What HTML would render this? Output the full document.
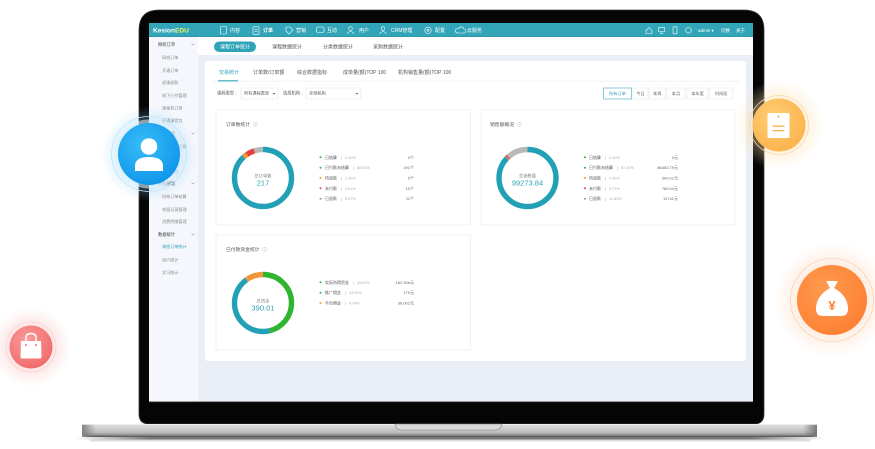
<!DOCTYPE html>
<html><head><meta charset="utf-8">
<style>
html,body{margin:0;padding:0;background:#fff;width:875px;height:449px;overflow:hidden}
svg{display:block}
text{font-family:"Liberation Sans","Noto Sans CJK SC",sans-serif}
</style></head>
<body>
<svg width="875" height="449" viewBox="0 0 875 449" xmlns="http://www.w3.org/2000/svg">
<defs>
  <linearGradient id="base" x1="0" y1="0" x2="0" y2="1">
    <stop offset="0" stop-color="#e4e4e4"/>
    <stop offset="0.35" stop-color="#cdcdcd"/>
    <stop offset="0.65" stop-color="#bcbcbc"/>
    <stop offset="0.85" stop-color="#8e8e8e"/>
    <stop offset="1" stop-color="#4e4e4e"/>
  </linearGradient>
  <linearGradient id="baseL" x1="0" y1="0" x2="1" y2="0">
    <stop offset="0" stop-color="#7a7a7a" stop-opacity="0.9"/>
    <stop offset="1" stop-color="#7a7a7a" stop-opacity="0"/>
  </linearGradient>
  <linearGradient id="baseR" x1="1" y1="0" x2="0" y2="0">
    <stop offset="0" stop-color="#6e6e6e" stop-opacity="0.9"/>
    <stop offset="1" stop-color="#6e6e6e" stop-opacity="0"/>
  </linearGradient>
  <linearGradient id="shadow" x1="0" y1="0" x2="1" y2="0">
    <stop offset="0" stop-color="#555" stop-opacity="0"/>
    <stop offset="0.1" stop-color="#555" stop-opacity="0.8"/>
    <stop offset="0.9" stop-color="#555" stop-opacity="0.8"/>
    <stop offset="1" stop-color="#555" stop-opacity="0"/>
  </linearGradient>
  <radialGradient id="gBlue" cx="0.4" cy="0.35" r="0.7">
    <stop offset="0" stop-color="#37bdf8"/>
    <stop offset="1" stop-color="#0f95ea"/>
  </radialGradient>
  <radialGradient id="gRed" cx="0.4" cy="0.35" r="0.7">
    <stop offset="0" stop-color="#fb9c9c"/>
    <stop offset="1" stop-color="#f06868"/>
  </radialGradient>
  <radialGradient id="gYel" cx="0.4" cy="0.35" r="0.7">
    <stop offset="0" stop-color="#ffcd73"/>
    <stop offset="1" stop-color="#fbb24c"/>
  </radialGradient>
  <radialGradient id="gOra" cx="0.4" cy="0.35" r="0.7">
    <stop offset="0" stop-color="#ff9a4e"/>
    <stop offset="1" stop-color="#fd8033"/>
  </radialGradient>
  <radialGradient id="glowB"><stop offset="0.5" stop-color="#8fd3fa" stop-opacity="0.45"/><stop offset="1" stop-color="#8fd3fa" stop-opacity="0"/></radialGradient>
  <radialGradient id="glowR"><stop offset="0.4" stop-color="#fbb4b4" stop-opacity="0.45"/><stop offset="1" stop-color="#fbb4b4" stop-opacity="0"/></radialGradient>
  <radialGradient id="glowY"><stop offset="0.5" stop-color="#fde1b0" stop-opacity="0.5"/><stop offset="1" stop-color="#fde1b0" stop-opacity="0"/></radialGradient>
  <radialGradient id="glowO"><stop offset="0.5" stop-color="#fdd0b0" stop-opacity="0.45"/><stop offset="1" stop-color="#fdd0b0" stop-opacity="0"/></radialGradient>
</defs>

<!-- laptop lid / bezel -->
<path d="M159,10 H744 Q764,10 764,30 V414 Q764,424 754,424 H149 Q139,424 139,414 V30 Q139,10 159,10 Z" fill="#050505" stroke="#3c3c3c" stroke-width="0.8"/>

<!-- screen -->
<rect x="149" y="23" width="604" height="379" fill="#eaeef6"/>
<rect x="149" y="37" width="49" height="365" fill="#f5f7fc"/>
<rect x="149" y="401.3" width="604" height="0.8" fill="#777"/>

<!-- header -->
<rect x="149" y="23" width="604" height="14" fill="#33a5b8"/>
<rect x="149" y="36.3" width="604" height="0.7" fill="#2b8fa1"/>
<text x="153" y="32.6" font-size="6.6" fill="#fff" font-weight="bold">Kesion<tspan fill="#e9f06e">EDU</tspan></text>

<g fill="none" stroke="#fff" stroke-width="0.6">
  <rect x="220.5" y="26.5" width="6" height="7.5" rx="0.8"/>
  <rect x="253" y="26.8" width="6" height="7.5" rx="0.8"/><line x1="254.5" y1="29.5" x2="257.5" y2="29.5"/><line x1="254.5" y1="31.5" x2="257.5" y2="31.5"/>
  <path d="M286,27 h4 l3,3 l-4,4 l-3,-3 z"/>
  <rect x="316.5" y="27" width="7.5" height="5.5" rx="1.5"/>
  <circle cx="350.5" cy="28.5" r="1.8"/><path d="M347,34 q3.5,-5 7,0"/>
  <circle cx="383" cy="28.5" r="1.8"/><path d="M379.5,34 q3.5,-5 7,0"/>
  <circle cx="428" cy="30.3" r="3.2"/><circle cx="428" cy="30.3" r="1"/>
  <path d="M457,33 h7 a2,2 0 0 0 0,-4 a3,3 0 0 0 -5.5,-0.5 a2.2,2.2 0 0 0 -1.5,4.5 z"/>
  <path d="M646,30.5 l3,-3 l3,3 v3 h-6 z"/>
  <rect x="658.5" y="27.3" width="6" height="4.5" rx="0.6"/><line x1="660" y1="33.5" x2="663" y2="33.5"/>
  <rect x="673" y="26.8" width="4" height="7" rx="0.8"/>
  <circle cx="688.5" cy="30.3" r="2.8"/>
</g>
<g font-size="5" fill="#fff">
  <text x="230" y="32.2">内容</text>
  <text x="263" y="32.2" font-weight="bold">订单</text>
  <text x="296" y="32.2">营销</text>
  <text x="327" y="32.2">互动</text>
  <text x="359" y="32.2">用户</text>
  <text x="391" y="32.2">CRM管理</text>
  <text x="435" y="32.2">配置</text>
  <text x="467" y="32.2">云服务</text>
  <text x="698" y="32" font-size="4.5">admin ▾</text>
  <text x="721" y="32" font-size="4.5">切换</text>
  <text x="736" y="32" font-size="4.5">关于</text>
</g>

<!-- top tabs bar -->
<rect x="198" y="37" width="555" height="18" fill="#fff"/>
<rect x="214" y="41.5" width="42" height="10.5" rx="5.25" fill="#2fa3b8"/>
<text x="235" y="48.6" font-size="5" fill="#fff" text-anchor="middle">课程订单统计</text>
<g font-size="5" fill="#555" text-anchor="middle">
  <text x="287" y="48.6">课程数据统计</text>
  <text x="338" y="48.6">分类数据统计</text>
  <text x="388" y="48.6">采购数据统计</text>
</g>

<!-- sidebar -->
<g font-size="4.3" fill="#444">
  <text x="158" y="45.8">网校订单</text>
  <text x="158" y="134.8">用户管理</text>
  <text x="158" y="184.8">财务管理</text>
  <text x="158" y="235.8">数据统计</text>
</g>
<g fill="none" stroke="#777" stroke-width="0.5">
  <path d="M191.5,43.5 l1.5,1.5 l1.5,-1.5"/>
  <path d="M191.5,132.5 l1.5,1.5 l1.5,-1.5"/>
  <path d="M191.5,182.5 l1.5,1.5 l1.5,-1.5"/>
  <path d="M191.5,233.5 l1.5,1.5 l1.5,-1.5"/>
</g>
<g font-size="4.1" fill="#888">
  <text x="162" y="58.8">网校订单</text>
  <text x="162" y="72.2">开通订单</text>
  <text x="162" y="84.2">退课退款</text>
  <text x="162" y="97.2">线下已付管理</text>
  <text x="162" y="109.5">课程包订单</text>
  <text x="162" y="122.2">开通课程包</text>
  <text x="162" y="147.8">用户列表管理</text>
  <text x="162" y="160.3">会员管理</text>
  <text x="162" y="172.8">卡券管理</text>
  <text x="162" y="198.2">机构订单结算</text>
  <text x="162" y="210.8">充值记录管理</text>
  <text x="162" y="223.2">消费明细管理</text>
  <text x="162" y="248.2" fill="#2fa3b8">课程订单统计</text>
  <text x="162" y="261.5">用户统计</text>
  <text x="162" y="273.8">学习统计</text>
</g>

<!-- main card -->
<rect x="205" y="61" width="541" height="300" rx="3" fill="#fff"/>
<g font-size="5" fill="#555">
  <text x="219" y="74" fill="#2fa3b8">交易统计</text>
  <text x="253" y="74">订单数/订单额</text>
  <text x="297" y="74">综合数据指标</text>
  <text x="343" y="74">成单量(额)TOP 100</text>
  <text x="398" y="74">机构销售量(额)TOP 100</text>
</g>
<rect x="213" y="80.8" width="527" height="0.6" fill="#e8ecf2"/>
<rect x="218" y="80.3" width="20" height="1.1" fill="#2fa3b8"/>

<!-- filters -->
<g font-size="4.3" fill="#555">
  <text x="217" y="94.7">课程类型 :</text>
  <text x="283" y="94.7">选择机构 :</text>
</g>
<rect x="241" y="88" width="37" height="11" rx="1" fill="#fff" stroke="#dfe3ea" stroke-width="0.6"/>
<text x="244" y="94.7" font-size="4.2" fill="#555">所有课程类型</text>
<path d="M272.5,93 l1.5,1.6 l1.5,-1.6 z" fill="#666"/>
<rect x="306" y="88" width="55" height="11" rx="1" fill="#fff" stroke="#dfe3ea" stroke-width="0.6"/>
<text x="309" y="94.7" font-size="4.2" fill="#555">全部机构</text>
<path d="M355.5,93 l1.5,1.6 l1.5,-1.6 z" fill="#666"/>

<!-- period buttons -->
<g fill="#fff" stroke="#e3e7ee" stroke-width="0.6">
  <rect x="633" y="88" width="15" height="11"/>
  <rect x="649" y="88" width="16.5" height="11"/>
  <rect x="667" y="88" width="18" height="11"/>
  <rect x="687" y="88" width="21" height="11"/>
  <rect x="709.5" y="88" width="23.5" height="11"/>
</g>
<rect x="603.5" y="88" width="28" height="11" fill="#fff" stroke="#6cc1cf" stroke-width="0.8"/>
<g font-size="4.2" fill="#666" text-anchor="middle">
  <text x="617.5" y="95" fill="#2fa3b8">所有订单</text>
  <text x="640.5" y="95">今日</text>
  <text x="657.2" y="95">本周</text>
  <text x="676" y="95">本月</text>
  <text x="697.5" y="95">本年度</text>
  <text x="721.2" y="95">时间段</text>
</g>

<!-- panels -->
<g fill="#fff" stroke="#e9edf2" stroke-width="0.7">
  <rect x="216" y="110" width="254.5" height="115" rx="1"/>
  <rect x="481" y="110" width="254" height="115" rx="1"/>
  <rect x="216" y="235" width="254.5" height="115" rx="1"/>
</g>
<g font-size="4.8" fill="#555">
  <text x="226" y="126">订单数统计</text>
  <text x="490" y="126">销售额概况</text>
  <text x="226" y="251">已付款资金统计</text>
</g>
<g fill="none" stroke="#bbb" stroke-width="0.45">
  <circle cx="255.5" cy="124.3" r="2"/>
  <circle cx="519.5" cy="124.3" r="2"/>
  <circle cx="264.5" cy="249.3" r="2"/>
</g>
<g fill="#bbb"><rect x="255.3" y="123.7" width="0.4" height="1.7"/><rect x="519.3" y="123.7" width="0.4" height="1.7"/><rect x="264.3" y="248.7" width="0.4" height="1.7"/></g>

<!-- donut 1 -->
<g fill="none" stroke-width="5.4" transform="rotate(-90 263 178)">
  <circle cx="263" cy="178" r="28.5" stroke="#22a0b6" stroke-dasharray="157.6 179.07"/>
  <circle cx="263" cy="178" r="28.5" stroke="#f2963a" stroke-dasharray="4.1 179.07" stroke-dashoffset="-157.6"/>
  <circle cx="263" cy="178" r="28.5" stroke="#e8413e" stroke-dasharray="8.3 179.07" stroke-dashoffset="-161.7"/>
  <circle cx="263" cy="178" r="28.5" stroke="#b8b8b8" stroke-dasharray="9.1 179.07" stroke-dashoffset="-170"/>
</g>
<text x="263" y="177.5" font-size="4.3" fill="#888" text-anchor="middle">总订单数</text>
<text x="263" y="185.5" font-size="7.5" fill="#2fa3b8" text-anchor="middle">217</text>

<!-- donut 2 -->
<g fill="none" stroke-width="5.4" transform="rotate(-90 527.5 178)">
  <circle cx="527.5" cy="178" r="28.5" stroke="#22a0b6" stroke-dasharray="156 179.07"/>
  <circle cx="527.5" cy="178" r="28.5" stroke="#f2963a" stroke-dasharray="0.6 179.07" stroke-dashoffset="-156"/>
  <circle cx="527.5" cy="178" r="28.5" stroke="#e8413e" stroke-dasharray="1.4 179.07" stroke-dashoffset="-156.6"/>
  <circle cx="527.5" cy="178" r="28.5" stroke="#b8b8b8" stroke-dasharray="21.1 179.07" stroke-dashoffset="-158"/>
</g>
<text x="527.5" y="177.5" font-size="4.3" fill="#888" text-anchor="middle">总销售额</text>
<text x="527.5" y="185.5" font-size="7.5" fill="#2fa3b8" text-anchor="middle">99273.84</text>

<!-- donut 3 -->
<g fill="none" stroke-width="5.4" transform="rotate(-90 263 303)">
  <circle cx="263" cy="303" r="28.5" stroke="#2fb52f" stroke-dasharray="82.6 179.07"/>
  <circle cx="263" cy="303" r="28.5" stroke="#22a0b6" stroke-dasharray="78.8 179.07" stroke-dashoffset="-82.6"/>
  <circle cx="263" cy="303" r="28.5" stroke="#f2963a" stroke-dasharray="17.7 179.07" stroke-dashoffset="-161.4"/>
</g>
<text x="263" y="302.5" font-size="4.3" fill="#888" text-anchor="middle">总资金</text>
<text x="263" y="310.5" font-size="7.5" fill="#2fa3b8" text-anchor="middle" font-family="Liberation Serif, serif">390.01</text>

<!-- legend 1 -->
<g font-size="4" fill="#555">
  <circle cx="320.5" cy="157.3" r="1" fill="#2fb52f"/><text x="325" y="158.8">已结算</text>
  <circle cx="320.5" cy="167.7" r="1" fill="#22a0b6"/><text x="325" y="169.2">已付款未结算</text>
  <circle cx="320.5" cy="178" r="1" fill="#f2963a"/><text x="325" y="179.5">待退款</text>
  <circle cx="320.5" cy="188.3" r="1" fill="#e8413e"/><text x="325" y="189.8">未付款</text>
  <circle cx="320.5" cy="198.7" r="1" fill="#999"/><text x="325" y="200.2">已退款</text>
</g>
<g font-size="3.8" fill="#aaa">
  <text x="341" y="158.8">|</text><text x="345" y="158.8">0.00%</text>
  <text x="353" y="169.2">|</text><text x="357" y="169.2">88.02%</text>
  <text x="341" y="179.5">|</text><text x="345" y="179.5">2.30%</text>
  <text x="341" y="189.8">|</text><text x="345" y="189.8">4.61%</text>
  <text x="341" y="200.2">|</text><text x="345" y="200.2">5.07%</text>
</g>
<g font-size="4" fill="#666" text-anchor="end">
  <text x="414" y="158.8">0个</text>
  <text x="414" y="169.2">191个</text>
  <text x="414" y="179.5">5个</text>
  <text x="414" y="189.8">10个</text>
  <text x="414" y="200.2">11个</text>
</g>

<!-- legend 2 -->
<g font-size="4" fill="#555">
  <circle cx="585" cy="157.3" r="1" fill="#2fb52f"/><text x="589" y="158.8">已结算</text>
  <circle cx="585" cy="167.7" r="1" fill="#22a0b6"/><text x="589" y="169.2">已付款未结算</text>
  <circle cx="585" cy="178" r="1" fill="#f2963a"/><text x="589" y="179.5">待退款</text>
  <circle cx="585" cy="188.3" r="1" fill="#e8413e"/><text x="589" y="189.8">未付款</text>
  <circle cx="585" cy="198.7" r="1" fill="#999"/><text x="589" y="200.2">已退款</text>
</g>
<g font-size="3.8" fill="#aaa">
  <text x="605" y="158.8">|</text><text x="609" y="158.8">0.00%</text>
  <text x="617" y="169.2">|</text><text x="621" y="169.2">87.10%</text>
  <text x="605" y="179.5">|</text><text x="609" y="179.5">0.30%</text>
  <text x="605" y="189.8">|</text><text x="609" y="189.8">0.77%</text>
  <text x="605" y="200.2">|</text><text x="609" y="200.2">11.83%</text>
</g>
<g font-size="4" fill="#666" text-anchor="end">
  <text x="678" y="158.8">0元</text>
  <text x="678" y="169.2">86463.79元</text>
  <text x="678" y="179.5">300.01元</text>
  <text x="678" y="189.8">769.04元</text>
  <text x="678" y="200.2">11741元</text>
</g>

<!-- legend 3 -->
<g font-size="4" fill="#555">
  <circle cx="320.5" cy="282.3" r="1" fill="#2fb52f"/><text x="325" y="283.8">实际所得资金</text>
  <circle cx="320.5" cy="292.7" r="1" fill="#22a0b6"/><text x="325" y="294.2">推广佣金</text>
  <circle cx="320.5" cy="303" r="1" fill="#f2963a"/><text x="325" y="304.5">平台佣金</text>
</g>
<g font-size="3.8" fill="#aaa">
  <text x="353" y="283.8">|</text><text x="357" y="283.8">45.67%</text>
  <text x="345" y="294.2">|</text><text x="349" y="294.2">43.59%</text>
  <text x="345" y="304.5">|</text><text x="349" y="304.5">9.74%</text>
</g>
<g font-size="4" fill="#666" text-anchor="end">
  <text x="414" y="283.8">182.308元</text>
  <text x="414" y="294.2">170元</text>
  <text x="414" y="304.5">38.002元</text>
</g>

<!-- laptop base -->
<rect x="75" y="437" width="750" height="2.6" fill="url(#shadow)"/>
<rect x="90" y="439.5" width="720" height="2" fill="#bbb" opacity="0.5"/>
<path d="M82,424 H817 V432 Q817,437 811,437 H88 Q82,437 82,432 Z" fill="url(#base)"/>
<rect x="82" y="424" width="14" height="13" fill="url(#baseL)"/>
<rect x="803" y="424" width="14" height="13" fill="url(#baseR)"/>
<rect x="82" y="424" width="735" height="0.8" fill="#f0f0f0"/>
<path d="M395,424 H502 Q501,430 495,430 H402 Q396,430 395,424 Z" fill="#dadada" stroke="#7a7a7a" stroke-width="0.6"/>

<!-- floating circles -->
<!-- blue user -->
<circle cx="149" cy="154" r="48" fill="url(#glowB)"/>
<circle cx="149" cy="154" r="37.5" fill="none" stroke="#bfe5fb" stroke-width="0.8"/>
<circle cx="149" cy="154" r="34.5" fill="#dff2fd" opacity="0.55"/>
<circle cx="149" cy="154" r="31" fill="url(#gBlue)"/>
<circle cx="149" cy="146.5" r="8.3" fill="#fff"/>
<path d="M135,171 V166 Q135,157 149,157 Q163,157 163,166 V171 Z" fill="#fff"/>

<!-- red bag -->
<circle cx="31" cy="347" r="40" fill="url(#glowR)"/>
<circle cx="31" cy="347" r="25" fill="none" stroke="#fcd3d3" stroke-width="0.8"/>
<circle cx="31" cy="347" r="21.5" fill="url(#gRed)"/>
<path d="M21,341 H41 L41.5,357 Q41.5,358.5 40,358.5 H22 Q20.5,358.5 20.5,357 Z" fill="#fff"/>
<path d="M26,343 V338 Q26,333.5 31,333.5 Q36,333.5 36,338 V343" fill="none" stroke="#fff" stroke-width="1.4"/>
<circle cx="26" cy="345" r="1" fill="#f37272"/>
<circle cx="36" cy="345" r="1" fill="#f37272"/>

<!-- yellow clipboard -->
<circle cx="779" cy="125" r="45" fill="url(#glowY)"/>
<circle cx="779" cy="125" r="29.5" fill="none" stroke="#fbd9a6" stroke-width="0.8"/>
<circle cx="779" cy="125" r="26.5" fill="url(#gYel)"/>
<rect x="767.5" y="113" width="22" height="25" rx="1.5" fill="#fff"/>
<circle cx="778.5" cy="116.5" r="1.1" fill="#fbb24c"/>
<rect x="772.5" y="125.5" width="12" height="1.3" fill="#fbb24c"/>
<rect x="772.5" y="130" width="12" height="1.3" fill="#fbb24c"/>

<!-- orange money bag -->
<circle cx="832" cy="300" r="58" fill="url(#glowO)"/>
<circle cx="832" cy="300" r="41.5" fill="none" stroke="#fcd2b8" stroke-width="0.8"/>
<circle cx="832" cy="300" r="35" fill="url(#gOra)"/>
<path d="M826,281 H838 L834,288 Q848,296 848,309 Q848,316 841,316 H823 Q816,316 816,309 Q816,296 830,288 Z" fill="#fff"/>
<text x="832" y="310" font-size="13" fill="#fd8033" text-anchor="middle" font-weight="bold">¥</text>
</svg>
</body></html>
